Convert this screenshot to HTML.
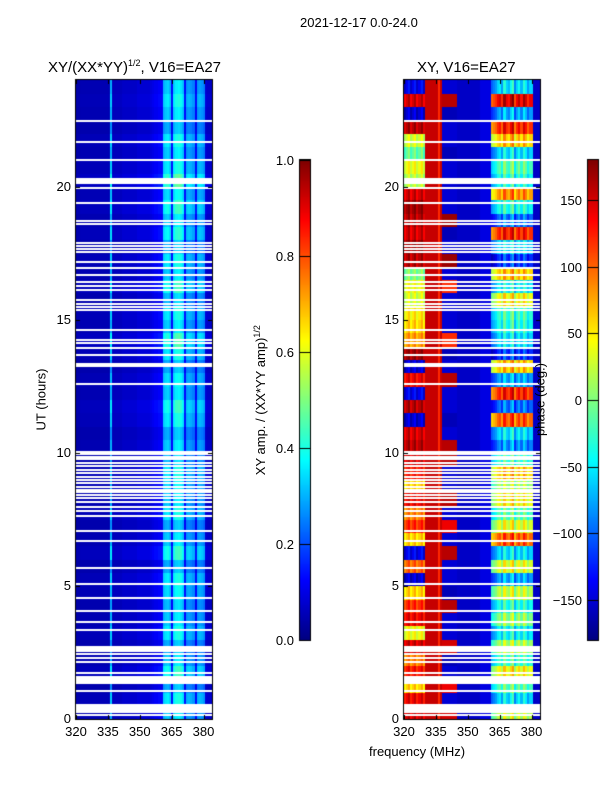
<!DOCTYPE html>
<html><head><meta charset="utf-8">
<style>
body{margin:0;background:#fff;}
#wrap{position:relative;width:600px;height:800px;font-family:"Liberation Sans",sans-serif;color:#000;}
.t{position:absolute;white-space:nowrap;font-size:13px;}
canvas{position:absolute;left:0;top:0;}
</style></head><body>
<div id="wrap">
<canvas id="c" width="600" height="800"></canvas>
<div class="t" style="left:300px;top:15px;font-size:13px">2021-12-17 0.0-24.0</div>
<div class="t" style="left:48px;top:58px;font-size:15px">XY/(XX*YY)<sup style="font-size:9px">1/2</sup>, V16=EA27</div>
<div class="t" style="left:417px;top:59px;font-size:15px">XY, V16=EA27</div>
<div class="t" style="left:0px;top:392px;width:82px;text-align:center;transform:rotate(-90deg);font-size:13px">UT (hours)</div>
<div class="t" style="left:369px;top:744px;font-size:13px">frequency (MHz)</div>
<div class="t" style="left:160px;top:392px;width:200px;text-align:center;transform:rotate(-90deg);font-size:13px">XY amp. / (XX*YY amp)<sup style="font-size:9px">1/2</sup></div>
<div class="t" style="left:490px;top:392px;width:100px;text-align:center;transform:rotate(-90deg);font-size:13px">phase (deg.)</div>
<div id="labels"></div>
</div>
<script>
// ---- data ----
const freqs = []; for (let f = 320; f < 384; f++) freqs.push(f);
const ampBand = [0.04,0.04,0.05,0.05,0.05,0.05,0.05,0.05,0.05,0.05,0.05,0.05,0.05,0.05,0.05,0.05,
 0.3,0.06,0.06,0.06,0.06,0.06,0.07,0.07,0.07,0.07,0.07,0.07,0.07,0.08,0.08,0.08,0.08,0.08,0.08,0.09,
 0.1,0.11,0.11,0.12,0.12,0.3,0.32,0.33,0.3,0.13,0.33,0.36,0.37,0.35,0.32,0.13,0.27,0.28,0.27,0.25,0.12,0.27,0.28,0.27,0.25,0.08,0.07,0.07];
const ampRowGain = [1.0,1.1,0.9,1.2,1.0,0.9,1.1,1.0,0.95,1.05,1.1,0.9,1.2,1.0,0.9,1.1,1.0,1.05,1.1,0.95,
 1.0,0.9,1.1,1.2,1.0,1.05,0.9,1.1,1.25,1.0,1.1,0.95,1.2,1.0,1.1,0.9,1.15,1.0,1.2,1.05,1.3,1.1,1.0,1.1,0.9,1.0,1.1,1.0];
const region = freqs.map(f => f<330?'low':f<338?'red':f<345?'mid':f<356?'blue':f<361?'blue2':f<381?'high':'blue');
const lowPhase = [150,140,60,130,90,150,40,140,120,60,-150,100,-140,60,120,90,140,60,130,150,160,150,
 -150,160,-140,140,-150,170,80,60,50,30,40,0,160,170,150,160,170,150,20,40,-10,30,160,-150,150,-140];
const midPhase = [150,-150,140,-150,-160,150,-150,-150,160,-160,-150,-150,160,-150,140,-150,160,-150,-150,160,160,-150,
 -160,-150,-150,160,-150,-160,120,-150,-150,-150,120,-150,170,-150,-160,170,-150,-150,-150,-150,-160,-150,-150,-160,160,-150];
const highPhase = [20,-60,-20,40,-30,10,-50,0,-40,20,-80,30,-60,100,30,-20,40,10,60,-30,-90,-60,
 100,-100,120,-80,60,-120,-60,-40,-30,40,-50,60,-120,-60,120,-100,-40,80,-40,-20,-60,60,120,-80,140,-60];
const highColOffset = [-40,-30,-20,0,10,-20,30,0,-10,20,40,-30,0,20,-10,30,10,-20,0,0];
const flagged = [22.47,21.67,20.99,20.28,20.2,20.13,19.94,19.38,18.7,18.59,17.88,17.76,17.65,17.54,17.16,16.94,16.67,16.41,16.26,16.11,
 15.73,15.58,15.47,15.36,14.61,14.23,14.12,13.93,13.67,13.33,13.26,12.58,10.03,9.95,9.84,9.76,9.61,9.5,9.35,9.24,9.09,8.97,8.86,8.71,8.6,8.52,8.41,8.3,8.15,7.96,7.81,7.62,7.06,6.68,
 5.67,5.07,4.54,4.06,3.64,3.34,2.55,2.6,2.65,2.7,2.44,2.29,2.14,1.73,1.43,1.48,1.53,1.58,1.35,1.05,0.28,0.33,0.38,0.43,0.48,0.53,0.15];
const xTicks = [320,335,350,365,380];
const yTicks = [0,5,10,15,20];
const ampTicks = [0.0,0.2,0.4,0.6,0.8,1.0];
const phaseTicks = [-150,-100,-50,0,50,100,150];

// ---- scales ----
const panels = [{x0:76,x1:212},{x0:404,x1:540}];
const Y0=719, Y1=80;
const yOf = h => Y0 - (h/24)*(Y0-Y1);
const xOf = (p,f) => p.x0 + (f-320)*2.125;
function jet(v){v=Math.max(0,Math.min(1,v));
 const r=Math.max(0,Math.min(1,1.5-Math.abs(4*v-3))),g=Math.max(0,Math.min(1,1.5-Math.abs(4*v-2))),b=Math.max(0,Math.min(1,1.5-Math.abs(4*v-1)));
 return `rgb(${r*255|0},${g*255|0},${b*255|0})`;}
function phaseAt(ci,ri){const f=freqs[ci],r=region[ci];
 if(r==='low')return lowPhase[ri]+((ci%3)-1)*15;
 if(r==='red')return f===336?120:155;
 if(r==='mid')return midPhase[ri];
 if(r==='blue')return -155;
 if(r==='blue2')return -145;
 let p=highPhase[ri]+highColOffset[f-361]; if(p>180)p-=360; if(p<-180)p+=360; return p;}

const ctx=document.getElementById('c').getContext('2d');
// heatmaps
for(let ri=0;ri<ampRowGain.length;ri++){
 const yA=Math.floor(yOf((ri+1)*0.5)), yB=Math.ceil(yOf(ri*0.5));
 for(let ci=0;ci<freqs.length;ci++){
  for(let k=0;k<2;k++){
   const p=panels[k];
   const xa=Math.floor(xOf(p,freqs[ci])), xb=Math.min(p.x1,Math.ceil(xOf(p,freqs[ci]+1)));
   ctx.fillStyle = k===0 ? jet(ampBand[ci]*ampRowGain[ri]) : jet((phaseAt(ci,ri)+180)/360);
   ctx.fillRect(xa,yA,xb-xa,yB-yA);
  }
 }
}
ctx.fillStyle='#fff';
panels.forEach(p=>flagged.forEach(h=>ctx.fillRect(p.x0,Math.round(yOf(h))-1,p.x1-p.x0,2)));
// axes frames + ticks
ctx.strokeStyle='#000';ctx.lineWidth=1;
panels.forEach(p=>{
 ctx.strokeRect(p.x0-0.5,Y1-0.5,p.x1-p.x0+1,Y0-Y1+1);
 ctx.beginPath();
 xTicks.forEach(f=>{const x=Math.round(xOf(p,f))+0.5;ctx.moveTo(x,Y0);ctx.lineTo(x,Y0-4);ctx.moveTo(x,Y1);ctx.lineTo(x,Y1+4);});
 yTicks.forEach(h=>{const y=Math.round(yOf(h))+0.5;ctx.moveTo(p.x0,y);ctx.lineTo(p.x0+4,y);ctx.moveTo(p.x1,y);ctx.lineTo(p.x1-4,y);});
 ctx.stroke();
});
// colorbars
const cbs=[{x:300,min:0,max:1,ticks:ampTicks,fmt:v=>v.toFixed(1),lx:294,name:'amp'},{x:588,min:-180,max:180,ticks:phaseTicks,fmt:v=>(v<0?'\u2212'+(-v):''+v),lx:582,name:'phase'}];
const labels=document.getElementById('labels');
function addLabel(txt,x,y,align,name){const d=document.createElement('div');d.className='t';d.textContent=txt;
 
 
 d.style.top=(y-8)+'px';
 if(align==='right'){d.style.left=(x-60)+'px';d.style.width='60px';d.style.textAlign='right';}
 else{d.style.left=(x-30)+'px';d.style.width='60px';d.style.textAlign='center';}
 labels.appendChild(d);}
cbs.forEach(cb=>{
 for(let y=160;y<640;y++){ctx.fillStyle=jet((640-y)/480);ctx.fillRect(cb.x,y,10,1);}
 ctx.strokeRect(cb.x-0.5,159.5,11,481);
 cb.ticks.forEach(v=>{const y=Math.round(640-(v-cb.min)/(cb.max-cb.min)*480)+0.5;
  ctx.beginPath();ctx.moveTo(cb.x,y);ctx.lineTo(cb.x+10,y);ctx.stroke();
  addLabel(cb.fmt(v),cb.lx,y,'right',cb.name+'-tick-label');});
});
panels.forEach((p,i)=>{
 xTicks.forEach(f=>addLabel(''+f,xOf(p,f),732,'center','x-tick-label'));
 yTicks.forEach(h=>addLabel(''+h,p.x0-5,yOf(h),'right','y-tick-label'));
});
</script>
</body></html>
